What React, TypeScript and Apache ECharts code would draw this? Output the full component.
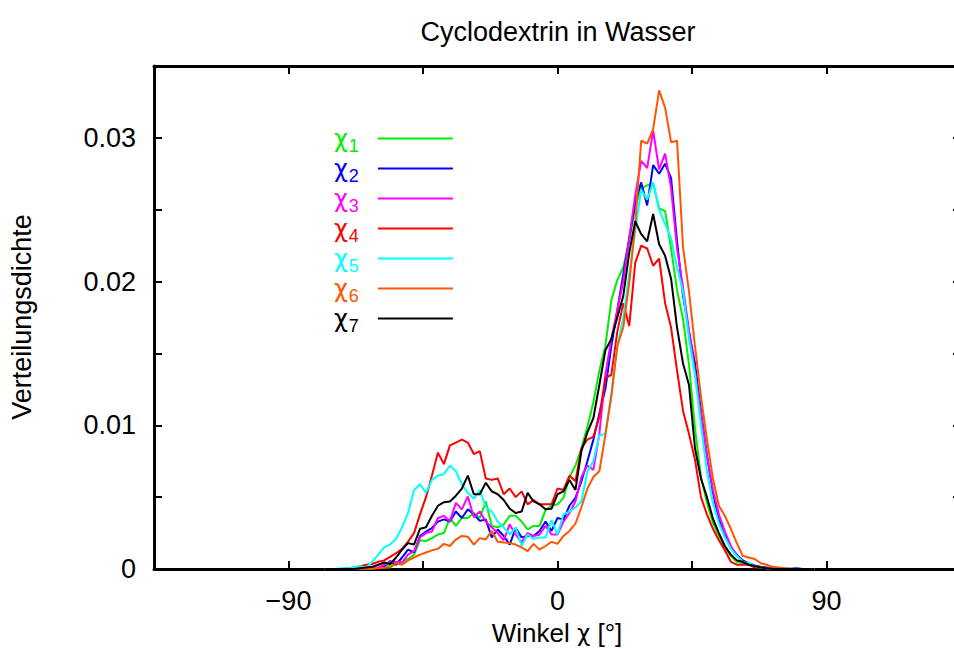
import React, { useEffect, useRef } from "react";
import * as echarts from "echarts";

const TITLE = "Cyclodextrin in Wasser";
const X_NAME_PARTS = ["Winkel ", "χ", " [°]"];
const Y_NAME = "Verteilungsdichte";

// bin centres in degrees
const ANGLES = [
  -78, -76, -74, -72, -70, -68, -66, -64, -62, -60,
  -58, -56, -54, -52, -50, -48, -46, -44, -42, -40,
  -38, -36, -34, -32, -30, -28, -26, -24, -22, -20,
  -18, -16, -14, -12, -10, -8, -6, -4, -2, 0,
  2, 4, 6, 8, 10, 12, 14, 16, 18, 20,
  22, 24, 26, 28, 30, 32, 34, 36, 38, 40,
  42, 44, 46, 48, 50, 52, 54, 56, 58, 60,
  62, 64, 66, 68, 70, 72, 74, 76, 78, 80,
  82, 84, 86,
];

// densities in units of 1e-3
const CHI1 = [
  0, 0, 0, 0, 0, 0, 0.01, 0.02, 0.03, 0.08,
  0.15, 0.25, 0.32, 0.45, 0.7, 1.0, 2.0, 1.95, 2.15, 2.4,
  2.5, 3.55, 3.0, 3.55, 3.55, 3.9, 3.55, 4.7, 3.0, 2.9,
  3.1, 3.7, 3.7, 3.3, 2.75, 3.0, 3.0, 4.1, 4.4, 4.5,
  4.95, 6.4, 7.2, 8.4, 9.9, 11.6, 13.8, 15.5, 18.7, 20.1,
  21.0, 22.8, 25.2, 26.5, 26.7, 26.8, 25.1, 24.9, 22.3, 19.4,
  17.4, 14.2, 9.8, 6.4, 4.6, 3.2, 2.3, 1.5, 0.9, 0.5,
  0.4, 0.3, 0.2, 0.1, 0.05, 0.03, 0.02, 0.01, 0, 0,
  0, 0, 0,
];
const CHI2 = [
  0, 0, 0, 0, 0, 0, 0.01, 0.02, 0.03, 0.08,
  0.2, 0.55, 0.3, 0.8, 1.35, 1.15, 2.3, 2.6, 2.85, 3.3,
  3.45, 3.3, 4.0, 3.55, 4.15, 3.8, 3.35, 3.45, 2.2, 2.75,
  2.3, 1.7, 2.85, 2.2, 2.3, 2.3, 2.65, 3.3, 2.65, 3.55,
  3.45, 4.4, 4.95, 6.1, 7.5, 9.0, 10.8, 12.5, 15.5, 18.0,
  20.5, 23.0, 25.5, 26.9, 25.3, 28.1, 27.5, 28.2, 27.2, 22.8,
  19.0, 16.5, 14.3, 11.0, 7.9, 5.3, 3.4, 2.4, 1.5, 1.0,
  0.6, 0.4, 0.25, 0.15, 0.1, 0.05, 0.03, 0.02, 0.01, 0.05,
  0, 0, 0,
];
const CHI3 = [
  0, 0, 0, 0, 0, 0, 0, 0.02, 0.05, 0.1,
  0.3, 0.5, 0.5, 0.45, 1.0, 1.25, 2.2, 2.5, 2.6, 3.55,
  3.7, 3.3, 4.6, 4.15, 5.05, 3.6, 4.0, 3.3, 2.9, 2.5,
  2.0, 3.1, 2.4, 1.85, 2.5, 2.3, 2.4, 3.0, 2.4, 2.4,
  3.3, 3.9, 4.7, 6.4, 7.2, 6.9, 9.4, 13.5, 16.0, 18.0,
  20.0, 23.0, 26.0, 28.4, 27.9, 30.5, 27.8, 28.9, 26.5, 22.3,
  19.6, 16.6, 13.7, 10.8, 7.9, 5.5, 3.8, 2.6, 1.6, 0.9,
  0.5, 0.3, 0.2, 0.1, 0.05, 0.02, 0, 0, 0, 0,
  0, 0, 0,
];
const CHI4 = [
  0, 0, 0, 0, 0.05, 0.1, 0.2, 0.3, 0.35, 0.5,
  0.6, 0.85, 1.1, 1.4, 1.9, 2.5, 3.8, 5.0, 6.5, 8.1,
  7.3, 8.6, 8.8, 9.0, 8.8, 8.0, 8.2, 6.3, 6.2, 6.3,
  5.2, 5.6, 5.0, 5.4, 4.5, 4.8, 4.5, 4.5, 4.5, 5.6,
  5.5, 6.5, 6.1, 8.4, 9.0, 9.2, 10.6, 13.3, 13.5, 16.5,
  18.5, 16.9, 21.3, 22.5, 22.3, 21.1, 21.6, 18.5, 16.8, 13.8,
  11.0, 9.4, 7.6, 5.0, 3.8, 2.8, 2.0, 1.3, 0.5, 0.3,
  0.3, 0.3, 0.1, 0.1, 0.05, 0, 0, 0, 0, 0,
  0, 0, 0,
];
const CHI5 = [
  0, 0, 0.02, 0.05, 0.05, 0.1, 0.2, 0.1, 0.5, 1.0,
  1.5, 1.7, 2.1, 2.9, 3.9, 5.5, 5.9, 5.3, 6.2, 6.5,
  6.6, 7.2, 6.8, 5.9, 5.3, 4.9, 5.5, 4.3, 4.0, 3.3,
  2.9, 2.4, 2.9, 1.6, 2.4, 2.1, 2.2, 2.2, 3.4, 2.4,
  3.8, 4.0, 4.3, 4.7, 6.8, 7.5, 9.3, 9.4, 12.2, 15.5,
  17.5, 20.5, 23.5, 26.4, 25.7, 26.9, 25.0, 24.0, 23.0, 21.0,
  19.3, 16.0, 13.5, 10.0, 6.8, 4.6, 3.2, 2.2, 1.4, 0.9,
  0.5, 0.4, 0.2, 0.1, 0.05, 0, 0, 0, 0, 0,
  0, 0, 0,
];
const CHI6 = [
  0, 0, 0, 0, 0, 0, 0, 0, 0.02, 0.05,
  0.08, 0.1, 0.4, 0.3, 0.6, 0.8, 1.0, 1.15, 1.3, 1.4,
  1.75, 1.6, 2.05, 2.3, 2.25, 1.7, 2.15, 2.05, 2.65, 1.9,
  1.85, 1.8, 1.7, 1.5, 1.25, 1.75, 1.35, 1.6, 1.9, 1.75,
  2.3, 2.65, 3.15, 4.3, 5.6, 6.4, 6.8, 9.3, 12.0, 15.5,
  16.8, 19.9, 24.0, 29.8, 29.6, 30.6, 33.3, 32.1, 29.7, 29.8,
  22.4, 19.3, 15.5, 12.0, 9.0, 6.3, 4.4, 3.7, 2.8, 1.8,
  0.9, 0.8, 0.7, 0.4, 0.3, 0.15, 0.1, 0.05, 0.02, 0,
  0, 0, 0,
];
const CHI7 = [
  0, 0, 0, 0, 0, 0, 0.05, 0.1, 0.15, 0.3,
  0.45, 0.35, 0.8, 1.35, 1.8, 1.7, 2.8, 2.9, 3.7, 4.4,
  4.65, 4.7, 5.1, 5.6, 6.5, 5.2, 5.2, 6.0, 5.4, 5.2,
  4.8, 4.2, 3.9, 4.0, 5.3, 4.7, 4.5, 4.15, 4.2, 5.2,
  5.4, 6.2, 5.5, 8.2, 9.5, 10.5, 12.8, 15.2, 16.0, 17.5,
  19.0, 22.0, 24.2, 23.3, 22.8, 24.7, 22.6, 21.8, 20.2, 16.8,
  14.3, 12.8, 8.4, 6.3, 5.0, 3.5, 2.5, 1.6, 1.0, 0.6,
  0.5, 0.3, 0.2, 0.1, 0.05, 0, 0, 0, 0, 0,
  0, 0, 0,
];

const SERIES_NAMES = ["χ1", "χ2", "χ3", "χ4", "χ5", "χ6", "χ7"];
const SERIES_VALUES = [CHI1, CHI2, CHI3, CHI4, CHI5, CHI6, CHI7];
const COLORS = ["#00ee00", "#0000ff", "#ff00ff", "#ff0000", "#00ffff", "#ff5500", "#000000"];

const X_LABELS: Record<number, string> = { [-90]: "−90", 0: "0", 90: "90" };

const FONT = "'Liberation Sans', Arial, Helvetica, sans-serif";
const GREEK = "'DejaVu Sans', 'Liberation Sans', sans-serif";
const FS = 27;

export default function App() {
  const ref = useRef<HTMLDivElement>(null);

  useEffect(() => {
    if (!ref.current) return;
    const chart = echarts.init(ref.current, undefined, { renderer: "svg" });

    const axisLine = { show: true, onZero: false, lineStyle: { color: "#000", width: 3 } };
    const tick = { show: true, inside: true, length: 8, lineStyle: { color: "#000", width: 2 } };

    const option: any = {
      animation: false,
      backgroundColor: "#ffffff",
      title: {
        text: TITLE,
        left: 553,
        top: 13,
        textAlign: "center",
        textStyle: { fontFamily: FONT, fontSize: FS, fontWeight: "normal", color: "#000" },
      },
      grid: { left: 154, top: 66, width: 807, height: 503, outerBoundsMode: "none", containLabel: false },
      legend: {
        orient: "vertical",
        left: 329,
        top: 120,
        padding: 5,
        itemGap: 0,
        itemWidth: 75,
        itemHeight: 2,
        icon: "rect",
        align: "right",
        selectedMode: false,
        data: SERIES_NAMES.map((n, i) => ({ name: n, textStyle: { color: COLORS[i] } })),
        formatter: (name: string) => `{a|χ}{b|${name.slice(1)}}`,
        textStyle: {
          fontFamily: FONT,
          fontSize: 24,
          lineHeight: 27,
          padding: [0, 14, 0, 0],
          rich: {
            a: { fontFamily: GREEK, fontSize: 24, lineHeight: 27 },
            b: { fontFamily: FONT, fontSize: 18, lineHeight: 27, verticalAlign: "top", padding: [12, 0, 0, 1] },
          },
        },
      },
      xAxis: [
        {
          type: "value",
          min: -135,
          max: 135,
          interval: 45,
          position: "bottom",
          axisLine,
          axisTick: tick,
          splitLine: { show: false },
          axisLabel: {
            formatter: (v: number) => X_LABELS[v] ?? "",
            fontFamily: FONT,
            fontSize: FS,
            color: "#000",
            margin: 18,
          },
        },
        {
          type: "value",
          min: -135,
          max: 135,
          interval: 45,
          position: "top",
          axisLine,
          axisTick: tick,
          splitLine: { show: false },
          axisLabel: { show: false },
        },
      ],
      yAxis: [
        {
          type: "value",
          min: 0,
          max: 0.035,
          interval: 0.005,
          position: "left",
          axisLine,
          axisTick: tick,
          splitLine: { show: false },
          axisLabel: {
            formatter: (v: number) => {
              const k = Math.round(v * 1000);
              if (k % 10 !== 0) return "";
              return k === 0 ? "0" : (k / 1000).toFixed(2);
            },
            fontFamily: FONT,
            fontSize: FS,
            color: "#000",
            margin: 18,
          },
        },
        {
          type: "value",
          min: 0,
          max: 0.035,
          interval: 0.005,
          position: "right",
          axisLine,
          axisTick: tick,
          splitLine: { show: false },
          axisLabel: { show: false },
        },
      ],
      graphic: [
        {
          type: "text",
          x: 557,
          y: 633,
          style: {
            text: `{n|${X_NAME_PARTS[0]}}{g|${X_NAME_PARTS[1]}}{n|${X_NAME_PARTS[2]}}`,
            rich: {
              n: { fontFamily: FONT, fontSize: 26, fill: "#000" },
              g: { fontFamily: GREEK, fontSize: 23, fill: "#000" },
            },
            fontFamily: FONT,
            fontSize: 26,
            fill: "#000",
            align: "center",
            verticalAlign: "middle",
          },
        },
        {
          type: "text",
          x: 22,
          y: 317,
          rotation: Math.PI / 2,
          style: {
            text: Y_NAME,
            fontFamily: FONT,
            fontSize: FS,
            fill: "#000",
            align: "center",
            verticalAlign: "middle",
          },
        },
      ],
      series: SERIES_NAMES.map((name, i) => ({
        name,
        type: "line",
        xAxisIndex: 0,
        yAxisIndex: 0,
        showSymbol: false,
        symbol: "none",
        color: COLORS[i],
        lineStyle: { color: COLORS[i], width: 2 },
        data: ANGLES.map((a, j) => [a, SERIES_VALUES[i][j] / 1000]),
      })),
    };

    chart.setOption(option);
    return () => chart.dispose();
  }, []);

  return (
    <div
      ref={ref}
      style={{ position: "fixed", left: 0, top: 0, width: 954, height: 649, background: "#fff" }}
    />
  );
}
